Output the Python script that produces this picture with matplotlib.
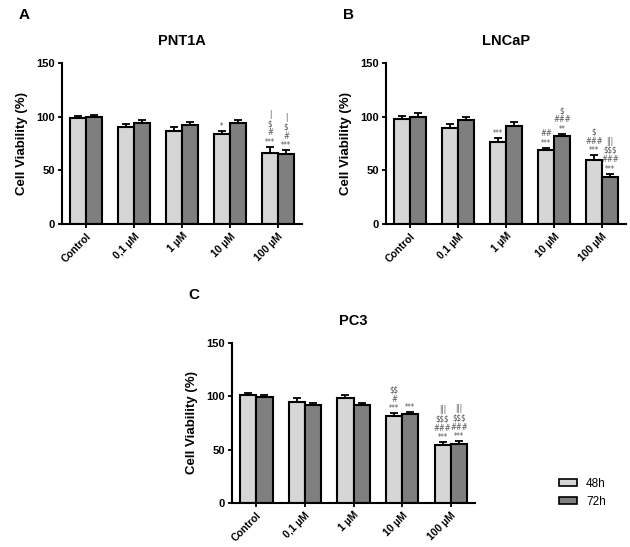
import numpy as np
import matplotlib
matplotlib.use('Agg')
from matplotlib import pyplot as plt
from matplotlib.patches import Patch

plt.rcParams['font.family'] = ['Liberation Sans', 'DejaVu Sans']
plt.rcParams['text.parse_math'] = False

# Data
doses = ['Control', '0,1 µM', '1 µM', '10 µM', '100 µM']
series = ['48h', '72h']

pnt_48 = [99, 90, 87, 84, 66]
pnt_72 = [100, 94, 92, 94, 65]
pnt_48_err = [2, 3, 3, 3, 6]
pnt_72_err = [2, 2.5, 3, 3, 4]
pnt_48_sig = ['', '', '', '*', '|\n$\n#\n***']
pnt_72_sig = ['', '', '', '', '|\n$\n#\n***']

lnc_48 = [98, 89, 76, 69, 60]
lnc_72 = [100, 97, 91, 82, 44]
lnc_48_err = [3, 4, 4, 2, 4]
lnc_72_err = [3, 3, 4, 2, 3]
lnc_48_sig = ['', '', '***', '##\n***', '$\n###\n***']
lnc_72_sig = ['', '', '', '$\n###\n**', '|||\n$$$\n###\n***']

pc3_48 = [101, 95, 98, 82, 54]
pc3_72 = [99, 92, 92, 83, 55]
pc3_48_err = [2, 3, 3, 2, 3]
pc3_72_err = [2, 2, 2, 2, 3]
pc3_48_sig = ['', '', '', '$$\n#\n***', '|||\n$$$\n###\n***']
pc3_72_sig = ['', '', '', '***', '|||\n$$$\n###\n***']

colors = ['#d6d6d6', '#7f7f7f']
W, H = 630, 547


def panel(rect, title, letter, v48, v72, e48, e72, s48, s72):
    l, r, t, b = rect
    ax = fig.add_axes([l / W, 1 - b / H, (r - l) / W, (b - t) / H])
    x = np.arange(len(doses))
    w = 1 / 3
    for off, vals, errs, sig, c in [(-w / 2, v48, e48, s48, colors[0]),
                                     (w / 2, v72, e72, s72, colors[1])]:
        ax.bar(x + off, vals, width=w, color=c, edgecolor='black', linewidth=1.5, zorder=2)
        ax.errorbar(x + off, vals, yerr=[np.zeros(len(errs)), errs], fmt='none',
                    ecolor='black', elinewidth=1.3, capsize=3, capthick=1.3, zorder=1)
        for xi, v, e, s in zip(x + off, vals, errs, sig):
            if s:
                ax.annotate(s, (xi, v + e), xytext=(0, 0), textcoords='offset points',
                            ha='center', va='bottom', fontsize=5.6, color='#555555',
                            linespacing=1.05, family='DejaVu Sans', stretch='condensed')
    ax.set_xlim(-0.5, 4.5)
    ax.set_ylim(0, 150)
    ax.set_yticks([0, 50, 100, 150])
    ax.set_xticks(x)
    ax.set_xticklabels(doses, rotation=45, ha='right', rotation_mode='anchor',
                       fontsize=7.5, fontweight='bold')
    for lab in ax.get_yticklabels():
        lab.set_fontweight('bold')
        lab.set_fontsize(8)
    ax.tick_params(width=1.3, length=3, pad=2)
    ax.spines['top'].set_visible(False)
    ax.spines['right'].set_visible(False)
    ax.spines['left'].set_linewidth(1.5)
    ax.spines['bottom'].set_linewidth(1.5)
    ax.set_ylabel('Cell Viability (%)', fontsize=9.5, fontweight='bold', labelpad=6)
    ax.set_title(title, fontsize=10.5, fontweight='bold', pad=13)
    ax.text(-0.18, 1.30, letter, transform=ax.transAxes, fontsize=11,
            fontweight='bold', ha='left', va='center')
    return ax


fig = plt.figure(figsize=(6.3, 5.47), dpi=100)

panel((62, 302, 63, 224), 'PNT1A', 'A', pnt_48, pnt_72, pnt_48_err, pnt_72_err, pnt_48_sig, pnt_72_sig)
panel((386, 626, 63, 224), 'LNCaP', 'B', lnc_48, lnc_72, lnc_48_err, lnc_72_err, lnc_48_sig, lnc_72_sig)
panel((232, 475, 343, 503), 'PC3', 'C', pc3_48, pc3_72, pc3_48_err, pc3_72_err, pc3_48_sig, pc3_72_sig)

handles = [Patch(facecolor=c, edgecolor='black', linewidth=1.2, label=s) for c, s in zip(colors, series)]
fig.legend(handles=handles, loc='upper left', bbox_to_anchor=(553 / W, 1 - 472 / H),
           frameon=False, fontsize=8.5, handlelength=1.5, handleheight=0.55,
           handletextpad=0.8, labelspacing=0.5, borderpad=0)

plt.savefig('out.png', dpi=100, facecolor='white')
